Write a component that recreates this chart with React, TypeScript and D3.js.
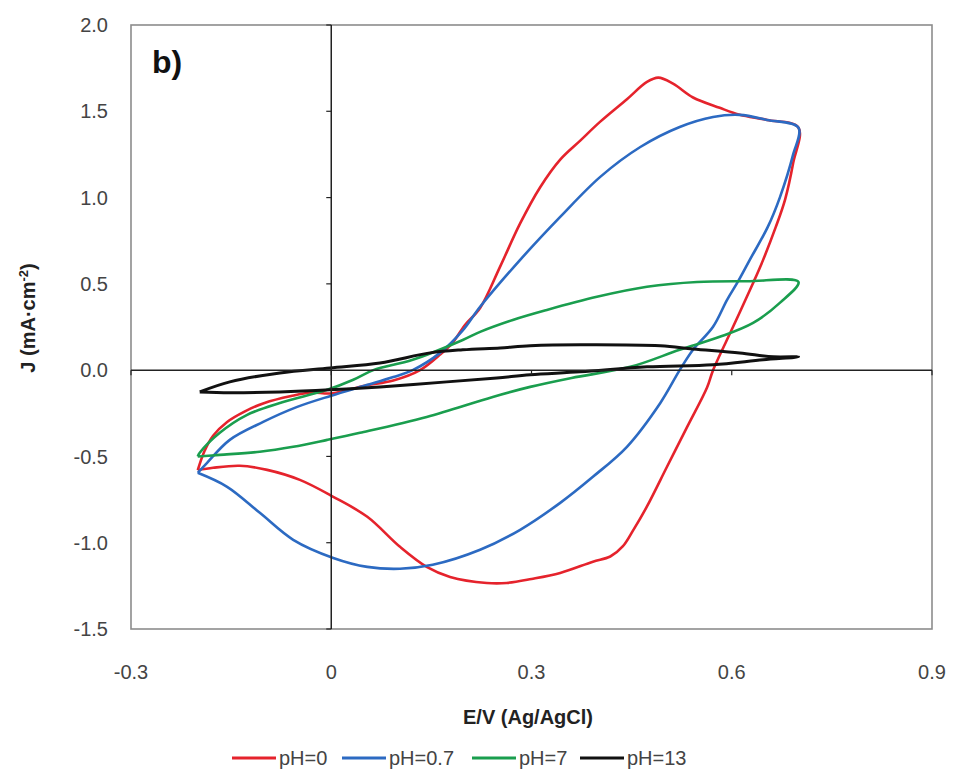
import { useMemo } from "react";
import * as d3 from "d3";

const WIDTH = 956;
const HEIGHT = 780;
const MARGIN = { top: 25, right: 24, bottom: 151, left: 131 };

const xTicks = [-0.3, 0, 0.3, 0.6, 0.9];
const yTicks = [-1.5, -1.0, -0.5, 0.0, 0.5, 1.0, 1.5, 2.0];

// potential (V vs Ag/AgCl), current density (mA/cm2) — anodic sweep then return
const ph0 = [
  [-0.2, -0.58], [-0.19, -0.47], [-0.177, -0.38], [-0.156, -0.3], [-0.13, -0.24], [-0.1, -0.19],
  [-0.06, -0.15], [-0.03, -0.13], [0.0, -0.135], [0.05, -0.09], [0.093, -0.06], [0.133, 0.0],
  [0.163, 0.09], [0.182, 0.16], [0.2, 0.26], [0.223, 0.36], [0.253, 0.6], [0.283, 0.85],
  [0.313, 1.06], [0.343, 1.22], [0.373, 1.33], [0.403, 1.44], [0.443, 1.57], [0.473, 1.67],
  [0.49, 1.695], [0.512, 1.66], [0.542, 1.58], [0.582, 1.52], [0.612, 1.48], [0.653, 1.45],
  [0.7, 1.405], [0.692, 1.2], [0.68, 0.99], [0.666, 0.83], [0.647, 0.639], [0.632, 0.505],
  [0.602, 0.251], [0.572, 0.0], [0.563, -0.1], [0.533, -0.33], [0.503, -0.56], [0.473, -0.79],
  [0.452, -0.93], [0.437, -1.02], [0.418, -1.08], [0.392, -1.11], [0.343, -1.175], [0.3, -1.21],
  [0.263, -1.233], [0.233, -1.233], [0.178, -1.198], [0.143, -1.14], [0.103, -1.024],
  [0.054, -0.85], [0.003, -0.734], [-0.047, -0.636], [-0.096, -0.578], [-0.137, -0.554],
  [-0.177, -0.566], [-0.2, -0.58],
];

const ph07 = [
  [-0.2, -0.595], [-0.186, -0.537], [-0.152, -0.404], [-0.102, -0.3], [-0.051, -0.213],
  [0.0, -0.148], [0.05, -0.09], [0.093, -0.04], [0.122, 0.0], [0.163, 0.1], [0.197, 0.23],
  [0.223, 0.367], [0.283, 0.639], [0.343, 0.888], [0.403, 1.12], [0.463, 1.293], [0.522, 1.409],
  [0.572, 1.467], [0.612, 1.479], [0.653, 1.45], [0.7, 1.405], [0.692, 1.25], [0.672, 1.0],
  [0.654, 0.83], [0.627, 0.639], [0.609, 0.511], [0.593, 0.407], [0.572, 0.251], [0.542, 0.118],
  [0.522, 0.0], [0.493, -0.19], [0.443, -0.444], [0.392, -0.618], [0.343, -0.769], [0.283, -0.925],
  [0.223, -1.041], [0.152, -1.128], [0.103, -1.151], [0.054, -1.14], [0.003, -1.088],
  [-0.057, -0.983], [-0.107, -0.827], [-0.156, -0.676], [-0.2, -0.595],
];

const ph7 = [
  [-0.2, -0.5], [-0.197, -0.479], [-0.167, -0.363], [-0.126, -0.259], [-0.077, -0.19],
  [-0.006, -0.114], [0.033, -0.056], [0.063, 0.0], [0.122, 0.06], [0.197, 0.175], [0.223, 0.222],
  [0.272, 0.291], [0.323, 0.349], [0.398, 0.425], [0.473, 0.483], [0.548, 0.511], [0.623, 0.515],
  [0.7, 0.511], [0.672, 0.39], [0.632, 0.274], [0.582, 0.193], [0.522, 0.118], [0.448, 0.019],
  [0.36, -0.045], [0.298, -0.097], [0.242, -0.155], [0.143, -0.271], [0.043, -0.363],
  [-0.006, -0.404], [-0.057, -0.444], [-0.107, -0.473], [-0.167, -0.491], [-0.2, -0.5],
];

const ph13 = [
  [-0.197, -0.126], [-0.152, -0.068], [-0.077, -0.016], [-0.002, 0.013], [0.073, 0.042],
  [0.148, 0.1], [0.197, 0.118], [0.253, 0.129], [0.298, 0.141], [0.373, 0.147], [0.493, 0.141],
  [0.542, 0.123], [0.612, 0.1], [0.662, 0.077], [0.7, 0.077], [0.647, 0.06], [0.572, 0.031],
  [0.473, 0.019], [0.373, -0.01], [0.298, -0.027], [0.248, -0.045], [0.173, -0.068],
  [0.073, -0.097], [-0.002, -0.114], [-0.077, -0.126], [-0.152, -0.131], [-0.197, -0.126],
];

const series = [
  { label: "pH=0", color: "#e5232c", width: 2.6, points: ph0 },
  { label: "pH=0.7", color: "#2c6ac2", width: 2.6, points: ph07 },
  { label: "pH=7", color: "#1a9e4e", width: 2.6, points: ph7 },
  { label: "pH=13", color: "#111111", width: 3, points: ph13 },
];

const legendX = [232, 342, 472, 580];

const FONT = "Liberation Sans, Arial, sans-serif";

export default function App() {
  const x = useMemo(() => d3.scaleLinear().domain([-0.3, 0.9]).range([MARGIN.left, WIDTH - MARGIN.right]), []);
  const y = useMemo(() => d3.scaleLinear().domain([-1.5, 2.0]).range([HEIGHT - MARGIN.bottom, MARGIN.top]), []);
  const line = d3
    .line<number[]>()
    .x((d) => x(d[0]))
    .y((d) => y(d[1]))
    .curve(d3.curveCatmullRom.alpha(0.5));

  const left = x(-0.3);
  const right = x(0.9);
  const top = y(2.0);
  const bottom = y(-1.5);

  return (
    <div style={{ position: "absolute", left: 0, top: 0 }}>
      <svg width={WIDTH} height={HEIGHT} style={{ display: "block", background: "#fff" }}>
        <rect x={left} y={top} width={right - left} height={bottom - top} fill="none" stroke="#8c8c8c" strokeWidth={1.6} />

        {series.map((s) => (
          <path key={s.label} d={line(s.points) ?? ""} fill="none" stroke={s.color} strokeWidth={s.width} strokeLinejoin="round" />
        ))}

        {/* crossing axes */}
        <line x1={x(0)} x2={x(0)} y1={top} y2={bottom} stroke="#222" strokeWidth={1.5} />
        <line x1={left} x2={right} y1={y(0)} y2={y(0)} stroke="#222" strokeWidth={1.5} />
        {yTicks.map((t) => (
          <line key={t} x1={x(0) - 5} x2={x(0)} y1={y(t)} y2={y(t)} stroke="#222" strokeWidth={1.2} />
        ))}
        {xTicks.map((t) => (
          <line key={t} x1={x(t)} x2={x(t)} y1={y(0)} y2={y(0) + 5} stroke="#222" strokeWidth={1.2} />
        ))}

        <g fontFamily={FONT} fontSize={20} fill="#444">
          {yTicks.map((t) => (
            <text key={t} x={left - 23} y={y(t)} dy="0.36em" textAnchor="end">
              {t.toFixed(1)}
            </text>
          ))}
          {xTicks.map((t) => (
            <text key={t} x={x(t)} y={bottom + 50} textAnchor="middle">
              {t === 0 ? "0" : String(t)}
            </text>
          ))}
        </g>

        <text x={152} y={73} fontFamily={FONT} fontSize={32} fontWeight="bold" fill="#111">
          b)
        </text>

        <text x={528} y={724} fontFamily={FONT} fontSize={20} fontWeight="bold" fill="#222" textAnchor="middle">
          E/V (Ag/AgCl)
        </text>
        <text transform="translate(35,318) rotate(-90)" fontFamily={FONT} fontSize={20} fontWeight="bold" fill="#222" textAnchor="middle">
          J (mA·cm<tspan dy="-7" fontSize={13}>-2</tspan>
          <tspan dy="7">)</tspan>
        </text>

        <g fontFamily={FONT} fontSize={20} fill="#444">
          {series.map((s, i) => (
            <g key={s.label} transform={`translate(${legendX[i]},758)`}>
              <line x1={0} x2={44} y1={0} y2={0} stroke={s.color} strokeWidth={3} />
              <text x={47} y={0} dy="0.36em">
                {s.label}
              </text>
            </g>
          ))}
        </g>
      </svg>
    </div>
  );
}
